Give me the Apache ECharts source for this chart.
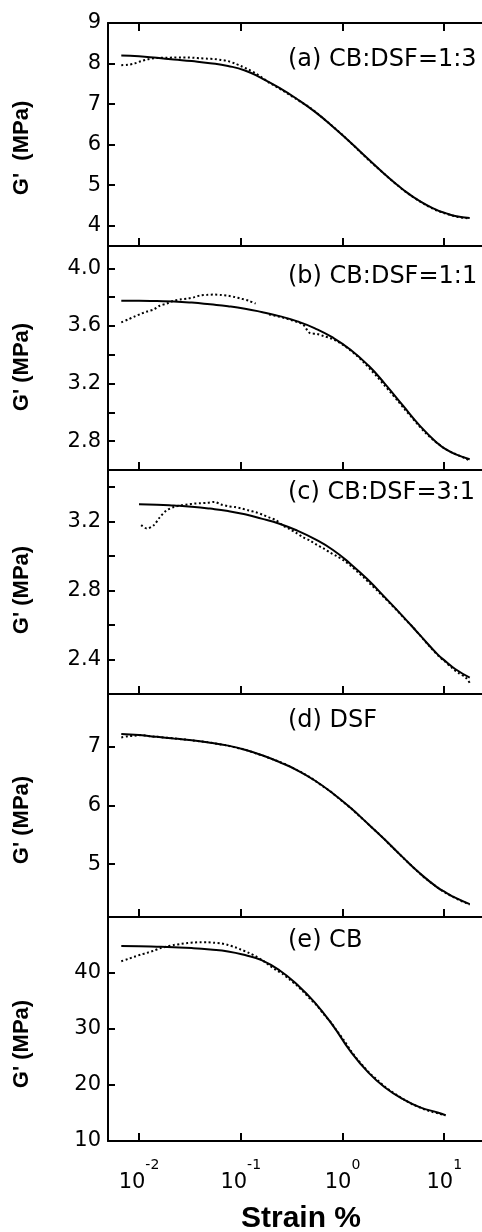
<!DOCTYPE html>
<html>
<head>
<meta charset="utf-8">
<script src="https://cdn.jsdelivr.net/npm/echarts@6/dist/echarts.min.js"></script>
<style>
html,body{margin:0;padding:0;background:#fff;}
#chart{width:482px;height:1232px;}
</style>
</head>
<body>
<div id="chart"></div>
<script>
// ---- data (strain %, G' in MPa) ----
const strainData = [0.0067, 0.0078, 0.009, 0.0105, 0.012, 0.014, 0.016, 0.0186, 0.022, 0.026,
  0.03, 0.035, 0.04, 0.047, 0.055, 0.064, 0.075, 0.088, 0.1, 0.12,
  0.14, 0.165, 0.19, 0.22, 0.26, 0.3, 0.35, 0.41, 0.48, 0.56,
  0.65, 0.76, 0.88, 1.03, 1.2, 1.4, 1.63, 1.9, 2.2, 2.57,
  3.0, 3.5, 4.1, 4.8, 5.6, 6.5, 7.6, 8.8, 10.3, 12,
  14, 16.3, 17.8];
const fitStrain = [0.0067, 0.01, 0.015, 0.022, 0.033, 0.05, 0.075, 0.11, 0.16, 0.24, 0.36, 0.53, 0.8, 1.2, 1.8, 2.6, 3.9, 5.8, 8.6, 10.3, 12.8, 17.8];

const aData = [7.96, 7.97, 8.00, 8.06, 8.10, 8.13, 8.14, 8.14, 8.15, 8.15,
  8.15, 8.14, 8.13, 8.12, 8.11, 8.09, 8.06, 8.00, 7.94, 7.85,
  7.76, 7.64, 7.53, 7.44, 7.33, 7.23, 7.13, 7.02, 6.91, 6.78,
  6.64, 6.50, 6.36, 6.21, 6.05, 5.89, 5.73, 5.57, 5.43, 5.28,
  5.13, 4.99, 4.85, 4.73, 4.62, 4.52, 4.43, 4.36, 4.30, 4.25,
  4.21, 4.19, 4.17];
const aFit = [8.20, 8.18, 8.14, 8.10, 8.06, 8.01, 7.94, 7.83, 7.64, 7.40, 7.12, 6.82, 6.45, 6.05, 5.64, 5.27, 4.90, 4.60, 4.38, 4.31, 4.24, 4.19];

const bData = [3.625, 3.645, 3.665, 3.685, 3.70, 3.715, 3.74, 3.755, 3.775, 3.785,
  3.79, 3.80, 3.812, 3.816, 3.818, 3.815, 3.81, 3.80, 3.79, 3.775,
  3.755, null, 3.68, 3.67, 3.658, 3.645, 3.63, 3.61, 3.55, 3.545,
  3.53, 3.515, 3.495, 3.465, 3.43, 3.39, 3.345, 3.295, 3.245, 3.19,
  3.135, 3.08, 3.02, 2.965, 2.91, 2.86, 2.815, 2.78, 2.745, 2.72,
  2.70, 2.68, 2.665];
const bFit = [3.775, 3.775, 3.773, 3.770, 3.762, 3.750, 3.737, 3.720, 3.697, 3.668, 3.632, 3.585, 3.52, 3.435, 3.325, 3.20, 3.05, 2.905, 2.785, 2.745, 2.71, 2.675];

const cData = [null, null, null, 3.18, 3.16, 3.18, 3.225, 3.265, 3.285, 3.295,
  3.30, 3.305, 3.307, 3.31, 3.315, 3.30, 3.29, 3.285, 3.278, 3.265,
  3.255, 3.24, 3.225, 3.21, 3.178, 3.158, 3.135, 3.11, 3.09, 3.065,
  3.045, 3.02, 3.00, 2.975, 2.945, 2.91, 2.875, 2.835, 2.80, 2.76,
  2.72, 2.68, 2.635, 2.595, 2.55, 2.505, 2.46, 2.42, 2.385, 2.35,
  2.32, 2.295, 2.265];
const cFit = [null, 3.301, 3.299, 3.294, 3.287, 3.276, 3.262, 3.243, 3.218, 3.188, 3.148, 3.10, 3.037, 2.955, 2.86, 2.762, 2.652, 2.54, 2.43, 2.39, 2.345, 2.295];

const dData = [7.16, 7.18, 7.19, 7.20, 7.185, 7.175, 7.165, 7.155, 7.145, 7.13,
  7.12, 7.105, 7.095, 7.08, 7.06, 7.04, 7.02, 6.99, 6.97, 6.93,
  6.89, 6.85, 6.81, 6.77, 6.72, 6.67, 6.61, 6.55, 6.48, 6.40,
  6.32, 6.24, 6.15, 6.05, 5.96, 5.85, 5.75, 5.64, 5.54, 5.43,
  5.31, 5.20, 5.08, 4.97, 4.86, 4.76, 4.67, 4.59, 4.51, 4.45,
  4.39, 4.34, 4.31];
const dFit = [7.22, 7.20, 7.17, 7.14, 7.11, 7.07, 7.02, 6.95, 6.86, 6.74, 6.60, 6.43, 6.21, 5.96, 5.68, 5.42, 5.12, 4.84, 4.60, 4.52, 4.43, 4.32];

const eData = [42.1, 42.5, 42.9, 43.3, 43.6, 44.0, 44.4, 44.7, 45.0, 45.2,
  45.35, 45.45, 45.5, 45.5, 45.4, 45.3, 45.0, 44.6, 44.2, 43.6,
  43.0, 42.2, 41.4, 40.6, 39.8, 38.9, 37.9, 36.7, 35.4, 34.2,
  32.7, 31.3, 29.7, 28.0, 26.2, 24.6, 23.2, 21.9, 20.9, 19.8,
  18.9, 18.1, 17.3, 16.6, 16.1, 15.6, 15.2, 14.9, 14.6, null,
  null, null, null];
const eFit = [44.8, 44.78, 44.7, 44.6, 44.45, 44.2, 43.85, 43.2, 42.3, 40.5, 37.9, 34.8, 30.7, 26.0, 22.2, 19.6, 17.5, 16.0, 15.1, 14.6, null, null];

// ---- ticks and labels ----
const xTicks = [0.01, 0.1, 1, 10];
const aTicks = [4, 5, 6, 7, 8, 9];        const aLabels = [4, 5, 6, 7, 8, 9];
const bTicks = [2.8, 3.0, 3.2, 3.4, 3.6, 3.8, 4.0]; const bLabels = [2.8, 3.2, 3.6, 4.0];
const cTicks = [2.4, 2.6, 2.8, 3.0, 3.2, 3.4]; const cLabels = [2.4, 2.8, 3.2];
const dTicks = [5, 6, 7];                 const dLabels = [5, 6, 7];
const eTicks = [10, 20, 30, 40];          const eLabels = [10, 20, 30, 40];
const panelNames = ['(a) CB:DSF=1:3', '(b) CB:DSF=1:1', '(c) CB:DSF=3:1', '(d) DSF', '(e) CB'];
const yTitles = ["G'  (MPa)", "G' (MPa)", "G' (MPa)", "G' (MPa)", "G' (MPa)"];
const xTitle = 'Strain %';

// ---- layout ----
const panels = [
  {data: aData, fit: aFit, min: 3.5, max: 9, ticks: aTicks, labels: aLabels, dec: 0},
  {data: bData, fit: bFit, min: 2.6, max: 4.155, ticks: bTicks, labels: bLabels, dec: 1},
  {data: cData, fit: cFit, min: 2.2, max: 3.5, ticks: cTicks, labels: cLabels, dec: 1},
  {data: dData, fit: dFit, min: 4.1, max: 7.9, ticks: dTicks, labels: dLabels, dec: 0},
  {data: eData, fit: eFit, min: 10, max: 50, ticks: eTicks, labels: eLabels, dec: 0}
];
const tops = [23, 246, 470, 694, 917];
const bottoms = [246, 470, 694, 917, 1141];
const labelY = [60, 277, 493, 721, 941];
const titleY = [148, 367, 590, 820, 1044];
const FONT = '"DejaVu Sans", sans-serif';
const BOLD = '"Liberation Sans", Arial, sans-serif';

const chart = echarts.init(document.getElementById('chart'), null, {renderer: 'canvas'});

const grid = panels.map((p, i) => ({left: 108, right: 0, top: tops[i], height: bottoms[i] - tops[i]}));

function xAxisDef(i, pos, showLabel) {
  return {
    gridIndex: i, type: 'log', logBase: 10, min: 0.00496, max: 23.5, position: pos,
    axisLine: {show: true, onZero: false, lineStyle: {color: '#000', width: 2}},
    axisTick: {show: true, inside: true, length: 8, lineStyle: {color: '#000', width: 2}, customValues: xTicks},
    minorTick: {show: false},
    splitLine: {show: false},
    axisLabel: {
      show: showLabel, customValues: xTicks, margin: 17,
      formatter: v => '{b|10}{s|' + Math.round(Math.log10(v)) + '}',
      rich: {
        b: {fontSize: 21, fontFamily: FONT, color: '#000', lineHeight: 35, verticalAlign: 'bottom'},
        s: {fontSize: 14, fontFamily: FONT, color: '#000', lineHeight: 14, verticalAlign: 'top'}
      }
    }
  };
}
const xAxis = panels.map((p, i) => xAxisDef(i, 'bottom', i === 4));
xAxis.push(xAxisDef(0, 'top', false));

const yAxis = panels.map((p, i) => ({
  gridIndex: i, type: 'value', min: p.min, max: p.max, position: 'left',
  axisLine: {show: true, onZero: false, lineStyle: {color: '#000', width: 2}},
  axisTick: {show: true, inside: true, length: 7, lineStyle: {color: '#000', width: 2}, customValues: p.ticks},
  splitLine: {show: false},
  axisLabel: {
    show: true, customValues: p.labels, margin: 7, showMinLabel: true, showMaxLabel: true,
    formatter: v => v.toFixed(p.dec),
    fontSize: 21, fontFamily: FONT, color: '#000'
  }
}));

const series = [];
panels.forEach((p, i) => {
  series.push({
    type: 'line', xAxisIndex: i, yAxisIndex: i, symbol: 'none', smooth: 0.3, connectNulls: false,
    data: strainData.map((x, k) => [x, p.data[k]]),
    lineStyle: {color: '#000', width: 2, type: [2, 2.5]}, z: 2
  });
  series.push({
    type: 'line', xAxisIndex: i, yAxisIndex: i, symbol: 'none', smooth: true, connectNulls: false,
    data: fitStrain.map((x, k) => [x, p.fit[k]]),
    lineStyle: {color: '#000', width: 2}, z: 3
  });
});

const graphic = [];
panelNames.forEach((t, i) => {
  graphic.push({type: 'text', x: 288, y: labelY[i], z: 10,
    style: {text: t, fill: '#000', font: '24px ' + FONT, align: 'left', verticalAlign: 'middle', textAlign: 'left', textVerticalAlign: 'middle'}});
});
yTitles.forEach((t, i) => {
  graphic.push({type: 'text', x: 22, y: titleY[i], rotation: Math.PI / 2, z: 10,
    style: {text: t, fill: '#000', font: 'bold 22px ' + BOLD, align: 'center', verticalAlign: 'middle', textAlign: 'center', textVerticalAlign: 'middle'}});
});
graphic.push({type: 'text', x: 301, y: 1219, z: 10,
  style: {text: xTitle, fill: '#000', font: 'bold 30px ' + BOLD, align: 'center', verticalAlign: 'middle', textAlign: 'center', textVerticalAlign: 'middle'}});

chart.setOption({
  animation: false,
  backgroundColor: '#fff',
  grid, xAxis, yAxis, series, graphic
});
</script>
</body>
</html>
